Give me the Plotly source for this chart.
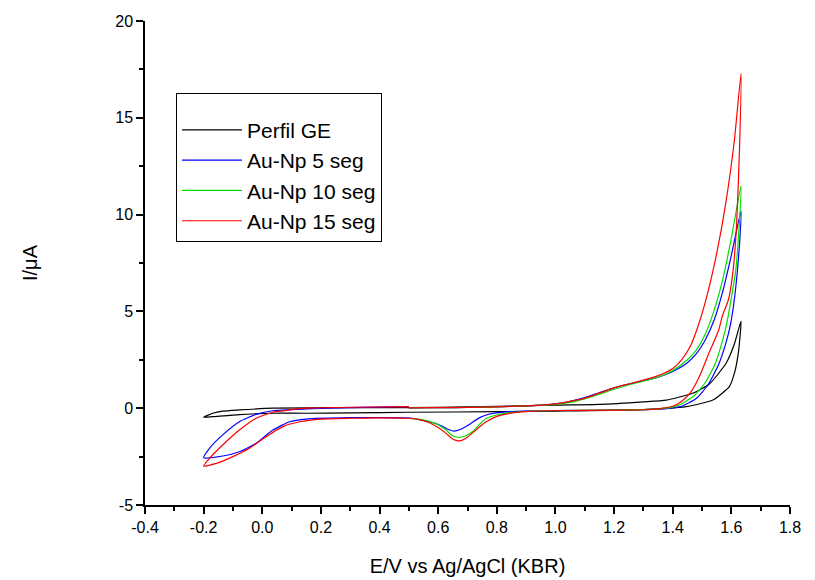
import plotly.graph_objects as go

# ---- data (E / V, I / uA), scan: 0.5 -> 1.63 -> -0.2 -> 0.5 ----
perfil_E = [0.5, 0.7, 0.9, 1.0, 1.15, 1.3, 1.378, 1.468, 1.525, 1.582, 1.61, 1.633,
            1.625, 1.612, 1.593, 1.537, 1.446, 1.264, 1.0, 0.8, 0.5, 0.3, 0.15, 0.036, -0.078, -0.17, -0.2,
            -0.169, -0.135, -0.078, 0.036, 0.3, 0.5]
perfil_I = [0.03, 0.07, 0.12, 0.16, 0.2, 0.33, 0.42, 0.77, 1.25, 2.32, 3.3, 4.5,
            3.0, 1.9, 1.11, 0.42, 0.08, -0.09, -0.15, -0.18, -0.21, -0.24, -0.26, -0.26, -0.33, -0.44, -0.47,
            -0.26, -0.15, -0.09, 0.0, 0.03, 0.03]

np5_E = [0.5, 0.6, 0.7, 0.8, 0.9, 1.0, 1.05, 1.1, 1.15, 1.2, 1.25, 1.3, 1.35, 1.4, 1.45, 1.48, 1.51, 1.54, 1.57, 1.6, 1.633,
         1.628, 1.62, 1.61, 1.598, 1.582, 1.555, 1.52, 1.48, 1.43, 1.38, 1.3, 1.2, 1.0, 0.9, 0.843, 0.8, 0.775, 0.74, 0.71,
         0.695, 0.675, 0.656, 0.635, 0.616, 0.59, 0.57, 0.54, 0.513, 0.4, 0.3, 0.15, 0.093, 0.036, -0.021, -0.078, -0.135, -0.2,
         -0.18, -0.135, -0.078, -0.021, 0.036, 0.15, 0.3, 0.5]
np5_I = [0.02, 0.03, 0.04, 0.07, 0.12, 0.22, 0.35, 0.55, 0.8, 1.05, 1.25, 1.42, 1.6, 1.9, 2.35, 2.8, 3.5, 4.5, 6.0, 7.9, 10.2,
         8.5, 7.0, 5.6, 4.4, 3.4, 2.2, 1.2, 0.5, 0.1, -0.02, -0.07, -0.1, -0.12, -0.15, -0.18, -0.24, -0.3, -0.5, -0.8,
         -0.95, -1.1, -1.18, -1.1, -0.95, -0.78, -0.7, -0.6, -0.52, -0.49, -0.49, -0.56, -0.7, -1.13, -1.81, -2.25, -2.47, -2.56,
         -2.07, -1.38, -0.7, -0.32, -0.13, -0.04, 0.03, 0.08]

np10_E = [0.5, 0.6, 0.7, 0.8, 0.9, 1.0, 1.05, 1.1, 1.15, 1.2, 1.25, 1.3, 1.35, 1.4, 1.45, 1.48, 1.51, 1.54, 1.57, 1.6, 1.633,
          1.627, 1.614, 1.601, 1.586, 1.57, 1.545, 1.51, 1.47, 1.42, 1.38, 1.3, 1.2, 1.0, 0.9, 0.85, 0.8, 0.764, 0.74, 0.718,
          0.69, 0.667, 0.645, 0.627, 0.6, 0.57, 0.54, 0.5]
np10_I = [0.02, 0.03, 0.04, 0.07, 0.12, 0.2, 0.3, 0.48, 0.72, 0.98, 1.2, 1.4, 1.6, 1.95, 2.5, 3.0, 3.8, 5.0, 6.6, 8.8, 11.5,
          9.5, 7.0, 5.8, 4.5, 3.5, 2.3, 1.3, 0.6, 0.15, 0.0, -0.07, -0.1, -0.12, -0.17, -0.22, -0.35, -0.52, -0.85, -1.2,
          -1.45, -1.5, -1.38, -1.13, -0.85, -0.68, -0.58, -0.52]

np15_E = [0.5, 0.6, 0.7, 0.8, 0.9, 1.0, 1.05, 1.1, 1.15, 1.2, 1.25, 1.3, 1.35, 1.4, 1.43, 1.46, 1.49, 1.52, 1.55, 1.58, 1.61, 1.633,
          1.628, 1.618, 1.605, 1.59, 1.57, 1.556, 1.525, 1.49, 1.46, 1.43, 1.4, 1.35, 1.3, 1.2, 1.0, 0.9, 0.85, 0.8, 0.764, 0.73,
          0.7, 0.673, 0.65, 0.627, 0.6, 0.57, 0.54, 0.5, 0.4, 0.3, 0.2, 0.127, 0.07, 0.013, -0.044, -0.1, -0.157, -0.2,
          -0.18, -0.135, -0.078, -0.021, 0.036, 0.093, 0.15, 0.3, 0.5]
np15_I = [0.02, 0.03, 0.04, 0.07, 0.12, 0.22, 0.35, 0.52, 0.78, 1.05, 1.25, 1.45, 1.68, 2.05, 2.5, 3.2, 4.4, 6.0, 8.0, 10.5, 13.8, 17.3,
          13.5, 9.5, 7.0, 5.6, 4.8, 4.0, 2.9, 1.6, 0.8, 0.35, 0.1, -0.03, -0.08, -0.1, -0.12, -0.18, -0.25, -0.42, -0.7, -1.1,
          -1.5, -1.69, -1.6, -1.3, -1.0, -0.75, -0.6, -0.52, -0.5, -0.52, -0.56, -0.7, -0.95, -1.47, -2.07, -2.5, -2.85, -2.99,
          -2.59, -1.9, -1.13, -0.52, -0.21, -0.09, 0.0, 0.05, 0.08]

series_names = ["Perfil GE", "Au-Np 5 seg", "Au-Np 10 seg", "Au-Np 15 seg"]
series_colors = ["#000000", "#0000ff", "#00e000", "#ff0000"]
series_E = [perfil_E, np5_E, np10_E, np15_E]
series_I = [perfil_I, np5_I, np10_I, np15_I]

x_ticks = [-0.4, -0.2, 0.0, 0.2, 0.4, 0.6, 0.8, 1.0, 1.2, 1.4, 1.6, 1.8]
x_ticklabels = ["-0.4", "-0.2", "0.0", "0.2", "0.4", "0.6", "0.8", "1.0", "1.2", "1.4", "1.6", "1.8"]
y_ticks = [-5, 0, 5, 10, 15, 20]
y_ticklabels = ["-5", "0", "5", "10", "15", "20"]

FONT = "Liberation Sans, Arial, sans-serif"

fig = go.Figure()
for name, col, ex, iy in zip(series_names, series_colors, series_E, series_I):
    fig.add_trace(go.Scatter(x=ex, y=iy, mode="lines", name=name,
                             line=dict(color=col, width=1.2, shape="spline", smoothing=0.5)))

axis_common = dict(showgrid=False, zeroline=False, showline=True, linecolor="black", linewidth=1.5,
                   ticks="outside", ticklen=7, tickwidth=1.5, tickcolor="black", automargin=False,
                   tickfont=dict(family=FONT, size=16, color="black"),
                   minor=dict(ticks="outside", ticklen=4, tickwidth=1.5, tickcolor="black"))

fig.update_xaxes(range=[-0.4, 1.8], tickvals=x_ticks, ticktext=x_ticklabels,
                 title=dict(text="E/V vs Ag/AgCl (KBR)", font=dict(family=FONT, size=20, color="black"), standoff=24),
                 **axis_common)
fig.update_xaxes(minor_dtick=0.1, minor_tick0=-0.4)
fig.update_yaxes(range=[-5, 20], tickvals=y_ticks, ticktext=y_ticklabels,
                 title=dict(text="I/μA", font=dict(family=FONT, size=20, color="black"), standoff=72),
                 **axis_common)
fig.update_yaxes(minor_dtick=2.5, minor_tick0=-5)

fig.update_layout(
    width=815, height=580,
    margin=dict(l=145, r=25, t=21, b=75),
    paper_bgcolor="white", plot_bgcolor="white",
    font=dict(family=FONT, color="black"),
    legend=dict(x=0.048, y=0.851, xanchor="left", yanchor="top",
                bordercolor="black", borderwidth=1, bgcolor="white",
                font=dict(family=FONT, size=21, color="black"),
                title=dict(text=" ", font=dict(size=12)),
                traceorder="normal", itemwidth=60,
                entrywidth=215, entrywidthmode="pixels"),
    showlegend=True,
)

fig.write_html("out.html")
